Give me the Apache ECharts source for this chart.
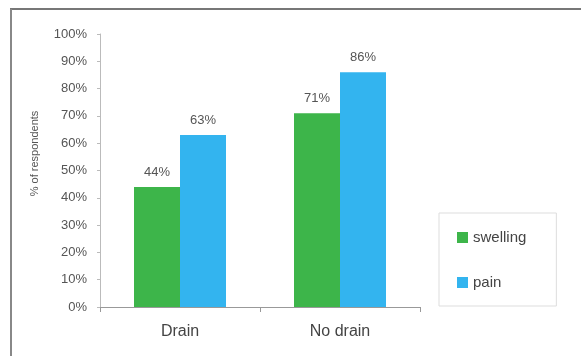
<!DOCTYPE html>
<html>
<head>
<meta charset="utf-8">
<script src="https://cdn.jsdelivr.net/npm/echarts@6/dist/echarts.min.js"></script>
<style>
  html, body { margin: 0; padding: 0; background: #fff; }
  #chart { width: 581px; height: 356px; }
</style>
</head>
<body>
<div id="chart"></div>
<script>
const categories = ['Drain', 'No drain']
const seriesNames = ['swelling', 'pain']
const swelling = [44, 71]
const pain = [63, 86]
const yTicks = [0, 10, 20, 30, 40, 50, 60, 70, 80, 90, 100]

const chart = echarts.init(document.getElementById('chart'))

const labelStyle = {
  show: true,
  position: 'top',
  distance: 8,
  formatter: '{c}%',
  color: '#555',
  fontSize: 13,
  fontFamily: 'Liberation Sans'
}

const option = {
  backgroundColor: '#fff',
  animation: false,
  grid: { left: 100, right: 161, top: 34, bottom: 49 },
  graphic: [
    { type: 'line', shape: { x1: 10, y1: 9, x2: 581, y2: 9 }, style: { stroke: '#777', lineWidth: 2 } },
    { type: 'line', shape: { x1: 11, y1: 9, x2: 11, y2: 356 }, style: { stroke: '#888', lineWidth: 2 } }
  ],
  legend: {
    orient: 'vertical',
    left: 439,
    top: 213,
    padding: [17, 30, 16, 18],
    itemGap: 30,
    itemWidth: 11,
    itemHeight: 11,
    icon: 'rect',
    borderColor: '#ddd',
    borderWidth: 1,
    textStyle: { color: '#444', fontSize: 15, fontFamily: 'Liberation Sans' },
    data: seriesNames
  },
  xAxis: {
    type: 'category',
    data: categories,
    axisLine: { lineStyle: { color: '#999' } },
    axisTick: { show: true, lineStyle: { color: '#999' } },
    axisLabel: { color: '#444', fontSize: 16, margin: 17, fontFamily: 'Liberation Sans' }
  },
  yAxis: {
    type: 'value',
    min: 0,
    max: 100,
    interval: 10,
    name: '% of respondents',
    nameLocation: 'middle',
    nameGap: 60,
    nameRotate: 90,
    nameTextStyle: { color: '#555', fontSize: 11, fontFamily: 'Liberation Sans', padding: [0, 0, 0, 34] },
    axisLine: { show: true, lineStyle: { color: '#bbb' } },
    axisTick: { show: true, length: 3, lineStyle: { color: '#bbb' } },
    splitLine: { show: false },
    axisLabel: {
      color: '#555',
      fontSize: 13,
      margin: 13,
      fontFamily: 'Liberation Sans',
      formatter: v => (yTicks.includes(v) ? v + '%' : '')
    }
  },
  series: [
    {
      name: seriesNames[0],
      type: 'bar',
      data: swelling,
      barWidth: 46,
      barGap: '0%',
      itemStyle: { color: '#3db54a' },
      label: labelStyle
    },
    {
      name: seriesNames[1],
      type: 'bar',
      data: pain,
      barWidth: 46,
      itemStyle: { color: '#33b4ef' },
      label: labelStyle
    }
  ]
}

chart.setOption(option)
</script>
</body>
</html>
